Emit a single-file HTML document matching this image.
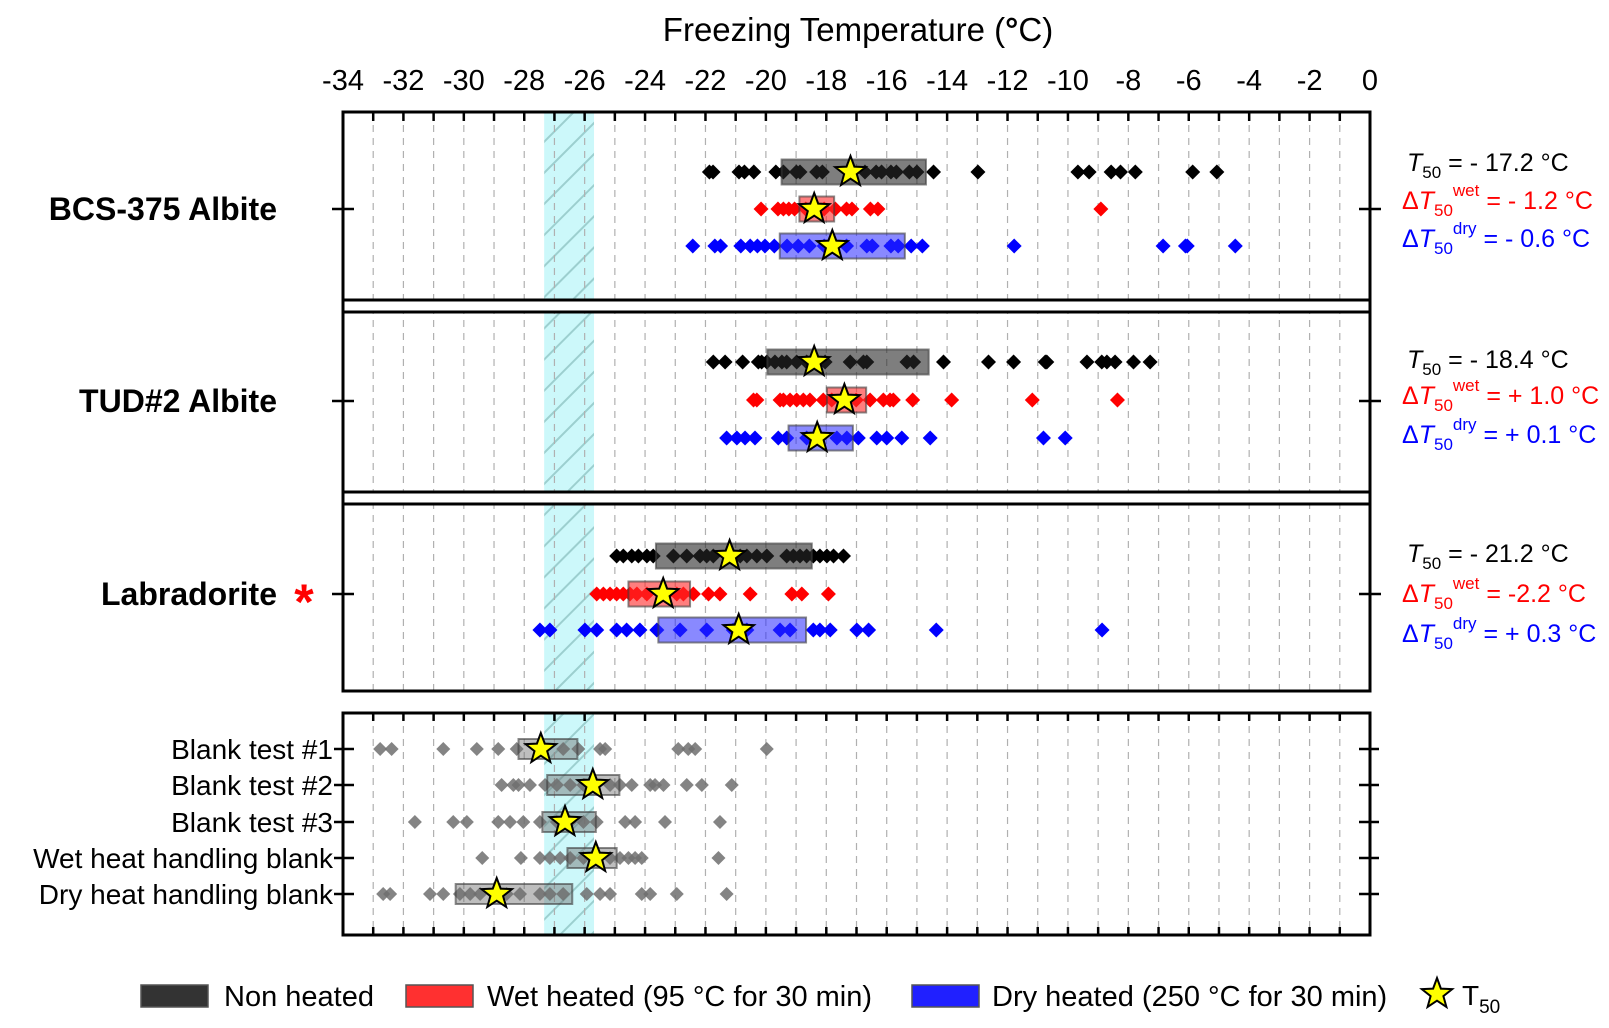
<!DOCTYPE html>
<html><head><meta charset="utf-8">
<style>
html,body{margin:0;padding:0;background:#fff;}
svg{display:block;font-family:"Liberation Sans",Arial,sans-serif;}
</style></head>
<body>
<svg id="chart" width="1609" height="1028" viewBox="0 0 1609 1028" xmlns="http://www.w3.org/2000/svg"></svg>
<script>
// ---- data ----
const xTicks = [-34,-32,-30,-28,-26,-24,-22,-20,-18,-16,-14,-12,-10,-8,-6,-4,-2,0];
const bcsBlack = [-21.87,-21.75,-20.89,-20.71,-20.40,-19.67,-19.42,-18.99,-18.87,-18.32,-18.13,-16.72,-16.35,-16.17,-15.86,-15.68,-15.25,-15.00,-14.45,-12.98,-9.67,-9.30,-8.57,-8.26,-7.77,-5.87,-5.07];
const bcsRed = [-20.16,-19.60,-19.42,-19.24,-19.05,-18.68,-18.07,-17.70,-17.33,-17.15,-16.54,-16.29,-8.91];
const bcsBlue = [-22.42,-21.69,-21.50,-20.83,-20.52,-20.28,-20.03,-19.72,-19.30,-18.93,-18.56,-18.07,-17.33,-16.66,-16.48,-15.86,-15.62,-15.19,-14.82,-11.78,-6.85,-6.11,-6.05,-4.46];
const tudBlack = [-21.74,-21.35,-20.77,-20.25,-20.14,-19.97,-19.70,-19.47,-19.31,-18.98,-18.65,-18.04,-17.21,-16.77,-16.66,-15.33,-15.11,-14.12,-12.63,-11.80,-10.75,-10.70,-9.37,-8.88,-8.71,-8.44,-7.83,-7.28];
const tudRed = [-20.41,-20.30,-19.53,-19.42,-19.20,-18.98,-18.76,-18.54,-18.10,-17.82,-17.01,-16.55,-16.11,-15.89,-15.78,-15.14,-13.85,-11.18,-8.36];
const tudBlue = [-21.30,-20.96,-20.69,-20.36,-19.59,-19.31,-18.65,-17.65,-17.32,-16.94,-16.33,-16.00,-15.50,-14.56,-10.81,-10.09];
const labBlack = [-24.94,-24.72,-24.44,-24.22,-23.94,-23.73,-23.06,-22.62,-22.18,-21.96,-21.74,-21.08,-20.85,-20.63,-20.30,-19.97,-19.31,-19.09,-18.87,-18.65,-18.43,-18.21,-17.98,-17.76,-17.43];
const labRed = [-25.60,-25.38,-25.16,-24.94,-24.72,-24.50,-24.27,-23.94,-23.28,-22.95,-22.73,-22.40,-21.90,-21.52,-20.52,-19.14,-18.81,-17.93];
const labBlue = [-27.48,-27.15,-25.99,-25.60,-24.94,-24.61,-24.17,-23.61,-22.84,-21.96,-21.08,-20.63,-19.53,-19.20,-18.43,-18.21,-17.87,-16.99,-16.60,-14.36,-8.87];
const blank1 = [-32.77,-32.39,-30.68,-29.57,-28.86,-28.25,-27.48,-26.71,-26.21,-25.49,-25.32,-22.90,-22.57,-22.34,-19.97];
const blank2 = [-28.75,-28.36,-28.19,-27.81,-27.31,-26.92,-26.48,-26.04,-25.71,-25.16,-24.83,-24.44,-23.83,-23.67,-23.39,-22.62,-22.12,-21.13];
const blank3 = [-31.62,-30.35,-29.90,-28.86,-28.47,-28.03,-27.48,-26.92,-26.48,-26.04,-25.60,-24.66,-24.33,-23.34,-21.52];
const blankWet = [-29.39,-28.11,-27.48,-27.15,-26.81,-26.48,-26.04,-25.60,-25.16,-24.83,-24.55,-24.33,-24.11,-21.57];
const blankDry = [-32.67,-32.44,-31.12,-30.68,-30.13,-29.79,-29.46,-29.02,-28.58,-28.14,-27.48,-27.15,-26.71,-25.93,-25.49,-25.16,-24.11,-23.83,-22.95,-21.30];
const boxLo = {bcsBlack:-19.48,bcsRed:-18.89,bcsBlue:-19.54,tudBlack:-19.95,tudRed:-17.98,tudBlue:-19.25,labBlack:-23.64,labRed:-24.55,labBlue:-23.56,blank1:-28.19,blank2:-27.24,blank3:-27.40,blankWet:-26.57,blankDry:-30.27};
const boxHi = {bcsBlack:-14.70,bcsRed:-17.74,bcsBlue:-15.40,tudBlack:-14.61,tudRed:-16.68,tudBlue:-17.12,labBlack:-18.48,labRed:-22.51,labBlue:-18.67,blank1:-26.24,blank2:-24.85,blank3:-25.63,blankWet:-24.94,blankDry:-26.41};
const t50 = {bcsBlack:-17.2,bcsRed:-18.4,bcsBlue:-17.8,tudBlack:-18.4,tudRed:-17.4,tudBlue:-18.3,labBlack:-21.2,labRed:-23.4,labBlue:-20.9,blank1:-27.45,blank2:-25.73,blank3:-26.65,blankWet:-25.63,blankDry:-28.91};
const bandRange = [-27.34,-25.69];

// ---- layout ----
const L=343,R=1370;
const X = v => L + (v + 34) * (R - L) / 34;
const NS="http://www.w3.org/2000/svg";
const svg=document.getElementById('chart');
function mk(tag, attrs, parent){const e=document.createElementNS(NS,tag);for(const k in attrs)e.setAttribute(k,attrs[k]);(parent||svg).appendChild(e);return e;}
function txt(s, attrs, parent){const e=mk('text',attrs,parent);e.textContent=s;return e;}
function diamond(cx,cy,r,fill,parent){return mk('polygon',{points:`${cx},${cy-r} ${cx+r},${cy} ${cx},${cy+r} ${cx-r},${cy}`,fill:fill},parent);}
function star(cx,cy,r,parent){let p=[];for(let i=0;i<10;i++){const a=-Math.PI/2+i*Math.PI/5;const rr=i%2?r*0.42:r;p.push((cx+rr*Math.cos(a)).toFixed(1)+','+(cy+rr*Math.sin(a)).toFixed(1));}return mk('polygon',{points:p.join(' '),fill:'#ffff00',stroke:'#000','stroke-width':2,'stroke-linejoin':'miter'},parent);}

const defs=mk('defs',{});
const pat=mk('pattern',{id:'hatch',patternUnits:'userSpaceOnUse',width:22,height:22,patternTransform:'rotate(-45)'},defs);
mk('rect',{x:0,y:0,width:22,height:22,fill:'#ccf8fa'},pat);
mk('line',{x1:0,y1:0,x2:22,y2:0,stroke:'#9ccfcf','stroke-width':4},pat);

const title=txt('',{x:858,y:41,'font-size':33,'text-anchor':'middle',fill:'#000'});


title.innerHTML='Freezing Temperature (<tspan font-weight="bold">°</tspan>C)';

const tl=mk('g',{});


xTicks.forEach(v=>{const t=txt(String(v),{x:X(v),y:90,'font-size':29,'text-anchor':'middle'},tl);

});

const TOP=[112,691], BOT=[713,935];
function grid(y0,y1,g){for(let v=-33;v<=-1;v++){mk('line',{x1:X(v),x2:X(v),y1:y0,y2:y1,stroke:'#b0b0b0','stroke-width':1.2,'stroke-dasharray':'7,6'},g);}}
function band(y0,y1,g){const r=mk('rect',{x:X(bandRange[0]),y:y0,width:X(bandRange[1])-X(bandRange[0]),height:y1-y0,fill:'url(#hatch)'},g);

}

const pTop=mk('g',{});


band(TOP[0],TOP[1],pTop);
grid(TOP[0],TOP[1],pTop);
[[300,312],[492,504]].forEach(s=>{mk('rect',{x:L,y:s[0],width:R-L,height:s[1]-s[0],fill:'#fff'},pTop);
mk('line',{x1:L,x2:R,y1:s[0],y2:s[0],stroke:'#000','stroke-width':3},pTop);
mk('line',{x1:L,x2:R,y1:s[1],y2:s[1],stroke:'#000','stroke-width':3},pTop);});
mk('rect',{x:L,y:TOP[0],width:R-L,height:TOP[1]-TOP[0],fill:'none',stroke:'#000','stroke-width':3},pTop);
for(let v=-33;v<=-1;v++){mk('line',{x1:X(v),x2:X(v),y1:TOP[0],y2:TOP[0]+9,stroke:'#000','stroke-width':2.5},pTop);}

const pBot=mk('g',{});


band(BOT[0],BOT[1],pBot);
grid(BOT[0],BOT[1],pBot);
mk('rect',{x:L,y:BOT[0],width:R-L,height:BOT[1]-BOT[0],fill:'none',stroke:'#000','stroke-width':3},pBot);
for(let v=-33;v<=-1;v++){mk('line',{x1:X(v),x2:X(v),y1:BOT[0],y2:BOT[0]+8,stroke:'#000','stroke-width':2.5},pBot);
mk('line',{x1:X(v),x2:X(v),y1:BOT[1],y2:BOT[1]-8,stroke:'#000','stroke-width':2.5},pBot);}

function series(name,vals,key,y,color,boxFill,boxH,r,parent){
  const g=mk('g',{},parent);
  
  
  vals.forEach(v=>{const d=diamond(X(v),y,r,color,g);
    
    });
  const b=mk('rect',{x:X(boxLo[key]),y:y-boxH/2,width:X(boxHi[key])-X(boxLo[key]),height:boxH,fill:boxFill,stroke:'rgba(60,60,60,0.6)','stroke-width':2},g);
  
  
  const s=star(X(t50[key]),y,16,g);
  
  
}
const BK='rgba(40,40,40,0.6)', RD='rgba(255,40,40,0.6)', BL='rgba(40,40,255,0.55)';
series('bcs-non-heated',bcsBlack,'bcsBlack',172,'#000',BK,25,7.5,pTop);
series('bcs-wet-heated',bcsRed,'bcsRed',209,'#ff0000',RD,25,7.5,pTop);
series('bcs-dry-heated',bcsBlue,'bcsBlue',246,'#0000ff',BL,25,7.5,pTop);
series('tud-non-heated',tudBlack,'tudBlack',362,'#000',BK,25,7.5,pTop);
series('tud-wet-heated',tudRed,'tudRed',400,'#ff0000',RD,25,7.5,pTop);
series('tud-dry-heated',tudBlue,'tudBlue',438,'#0000ff',BL,25,7.5,pTop);
series('lab-non-heated',labBlack,'labBlack',556,'#000',BK,25,7.5,pTop);
series('lab-wet-heated',labRed,'labRed',594,'#ff0000',RD,25,7.5,pTop);
series('lab-dry-heated',labBlue,'labBlue',630,'#0000ff',BL,25,7.5,pTop);
const GB='rgba(110,110,110,0.45)', GP='rgba(110,110,110,0.85)';
series('blank-test-1',blank1,'blank1',749,GP,GB,20,7,pBot);
series('blank-test-2',blank2,'blank2',785,GP,GB,20,7,pBot);
series('blank-test-3',blank3,'blank3',822,GP,GB,20,7,pBot);
series('wet-heat-blank',blankWet,'blankWet',858,GP,GB,20,7,pBot);
series('dry-heat-blank',blankDry,'blankDry',894,GP,GB,20,7,pBot);

const mineralRows=[['BCS-375 Albite',209],['TUD#2 Albite',401],['Labradorite',594]];
mineralRows.forEach(r=>{
  const t=txt(r[0],{x:277,y:r[1]+11,'font-size':32,'font-weight':'bold','text-anchor':'end'});
  
  
  mk('line',{x1:L-11,x2:L+11,y1:r[1],y2:r[1],stroke:'#000','stroke-width':2.5});
  mk('line',{x1:R-11,x2:R+11,y1:r[1],y2:r[1],stroke:'#000','stroke-width':2.5});
});
const ast=txt('*',{x:304,y:619,'font-size':50,'font-weight':'bold',fill:'#ff0000','text-anchor':'middle'});



const blankRows=[['Blank test #1',749],['Blank test #2',785],['Blank test #3',822],['Wet heat handling blank',858],['Dry heat handling blank',894]];
blankRows.forEach(r=>{
  const t=txt(r[0],{x:333,y:r[1]+10,'font-size':28,'text-anchor':'end'});
  
  
  mk('line',{x1:L-9,x2:L+11,y1:r[1],y2:r[1],stroke:'#000','stroke-width':2.5});
  mk('line',{x1:R-11,x2:R+9,y1:r[1],y2:r[1],stroke:'#000','stroke-width':2.5});
});

const ann=[
 [162,'#000','','= - 17.2 °C'],[200,'#ff0000','wet','= - 1.2 °C'],[238,'#0000ff','dry','= - 0.6 °C'],
 [359,'#000','','= - 18.4 °C'],[395,'#ff0000','wet','= + 1.0 °C'],[434,'#0000ff','dry','= + 0.1 °C'],
 [553,'#000','','= - 21.2 °C'],[593,'#ff0000','wet','= -2.2 °C'],[633,'#0000ff','dry','= + 0.3 °C']];
ann.forEach(a=>{
  const t=txt('',{x:a[2]?1402:1407,y:a[0]+9,'font-size':25,fill:a[1]});
  
  
  t.innerHTML=(a[2]?'Δ':'')+'<tspan font-style="italic">T</tspan><tspan font-size="17" dy="7">50</tspan>'+
   (a[2]?'<tspan font-size="17" dy="-20">'+a[2]+'</tspan><tspan dy="13"> '+a[3]+'</tspan>':'<tspan dy="-7"> '+a[3]+'</tspan>');
});

const lg=mk('g',{});


const legItems=[[141,'#333','Non heated',224],[406,'#ff3030','Wet heated (95 °C for 30 min)',487],[912,'#2020ff','Dry heated (250 °C for 30 min)',992]];
legItems.forEach(it=>{
  const e=mk('g',{},lg);
  
  
  mk('rect',{x:it[0],y:985,width:67,height:22,fill:it[1],stroke:'#555','stroke-width':1.5},e);
  txt(it[2],{x:it[3],y:1006,'font-size':29},e);
});
const se=mk('g',{},lg);


star(1437,994,16,se);
const t5=txt('',{x:1462,y:1005,'font-size':28},se);
t5.innerHTML='T<tspan font-size="19" dy="8">50</tspan>';
</script>
</body></html>
